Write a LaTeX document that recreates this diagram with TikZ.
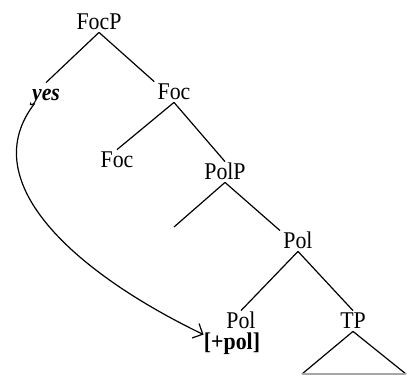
\documentclass[tikz,border=0pt]{standalone}
\usepackage{fontspec}
\setmainfont[FakeStretch=0.91]{Liberation Serif}
\usetikzlibrary{arrows.meta}

\begin{document}
\begin{tikzpicture}[x=.5pt,y=-.5pt]
\tikzset{branch/.style={draw=black,line width=.6pt},
	cat/.style={inner sep=1.5pt,text height=.7em,text depth=0pt,font=\fontsize{12}{14}\selectfont}}
\useasboundingbox (0,0) rectangle (407,375);

\foreach \n/\x/\y/\t in {focp/99/22/FocP,foc1/174/92/Foc,foc2/117/160/Foc,polp/225/172/PolP,polbar/298/241/Pol,pol/241/321/Pol,tp/353/321/TP}{%
	\node[cat] (\n) at (\x,\y) {\t};
}%
\node[cat] (yes) at (46,93) {\bfseries\itshape yes};
\node[cat,inner sep=0pt] (feat) at (232,342) {\bfseries [+pol]};
\coordinate (e1) at (174,227);
\coordinate (t1) at (302,374);
\coordinate (t2) at (406,374);

\foreach \a/\b in {focp/yes.north,focp/foc1.north west,foc1/foc2.north,foc1/polp.north,polp/e1,polp/polbar.north west,polbar/pol.north,polbar/tp.north,tp/t1,tp/t2}{%
	\draw[branch] (\a.south) -- (\b);
}%
\draw[branch,draw=gray!70] (t1) -- (t2);
\draw[branch,-{Straight Barb[length=4pt,width=8pt]}] ([xshift=3pt]yes.south west) .. controls (-25,180) and (70,270) .. (feat.north west);
\end{tikzpicture}
\end{document}
